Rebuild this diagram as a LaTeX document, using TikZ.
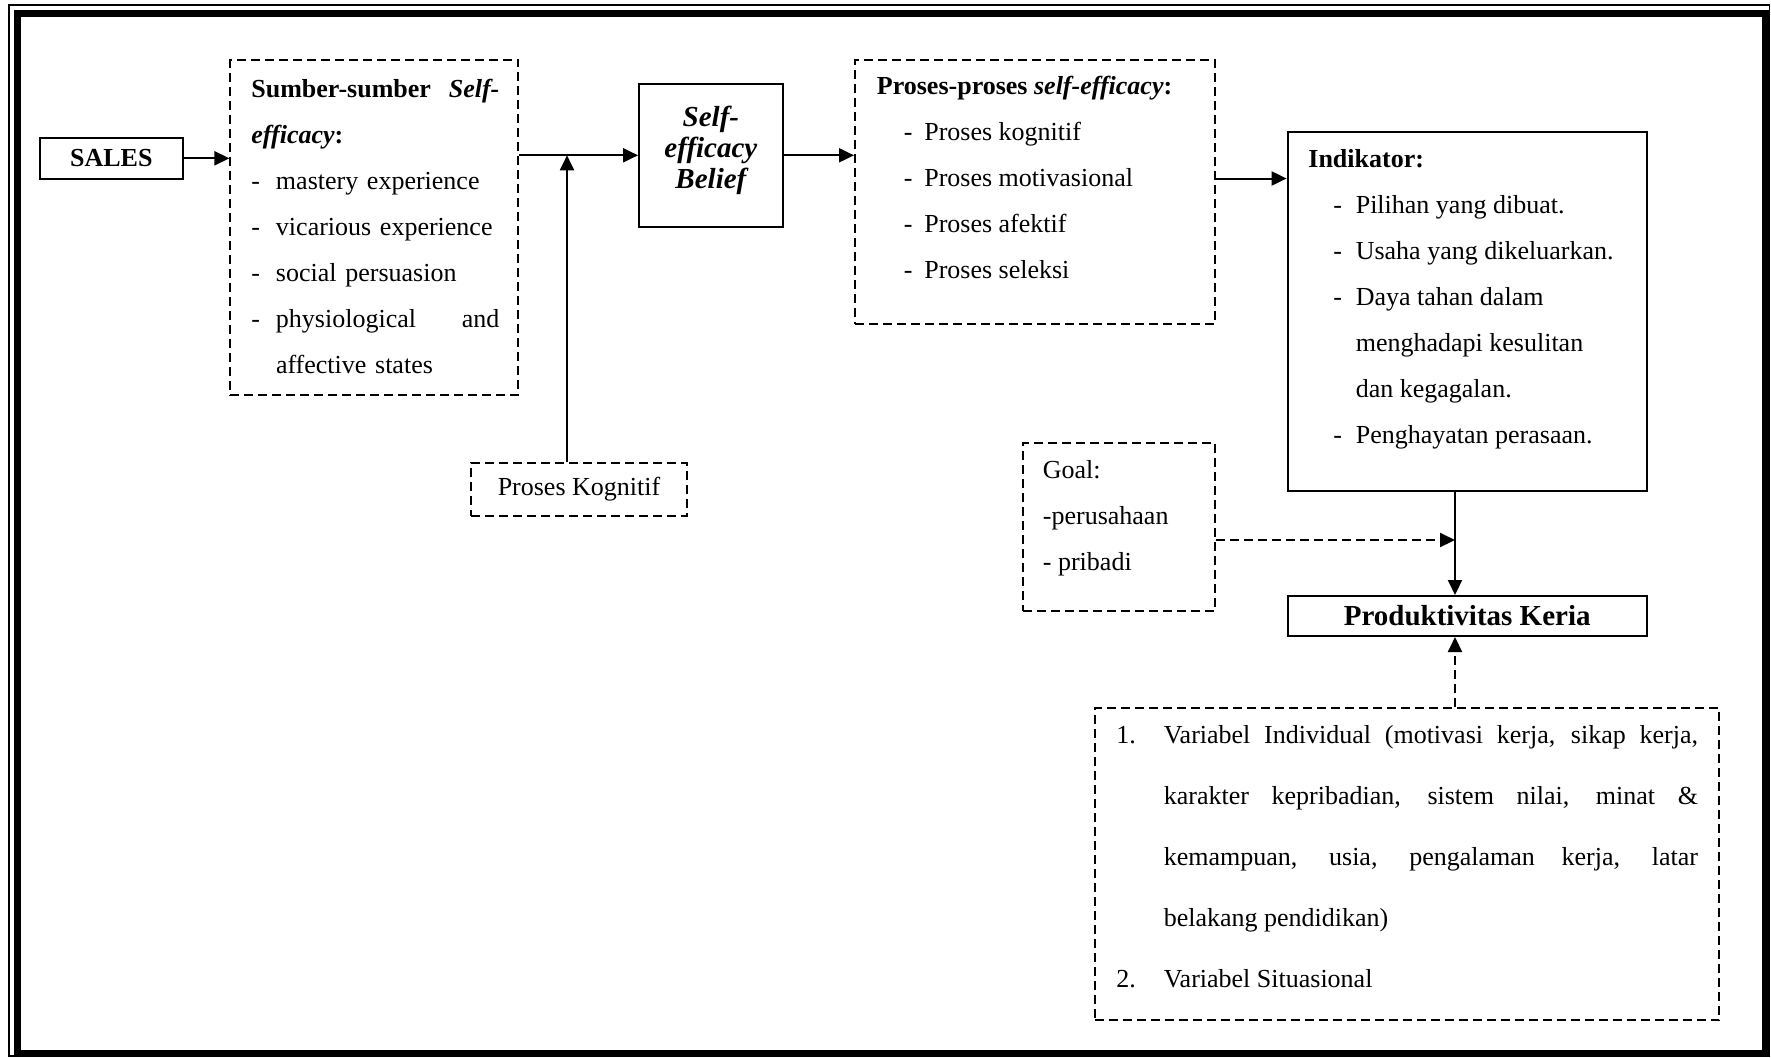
\documentclass[tikz,border=0pt]{standalone}
\usepackage{fontspec}
\setmainfont{Liberation Serif}
\usetikzlibrary{arrows.meta}
\newcommand{\itemdash}[1]{\makebox[#1][l]{-}}
\begin{document}
\begin{tikzpicture}
[
    x=0.5pt, y=-0.5pt,
    box/.style={draw, line width=1pt, inner sep=0pt},
    dbox/.style={box, dash pattern=on 4.5pt off 2.5pt},
    txt/.style={align=left, anchor=north west, inner sep=0pt, font=\fontsize{13}{23}\selectfont},
    arr/.style={line width=1pt, -{Triangle[length=7.5pt, width=7pt]}}
]
    \useasboundingbox (0,0) rectangle (1771,1057);
    \draw[line width=0.6pt] (9,5) rectangle (1769.5,1056);
    \draw[line width=3.5pt] (17.5,13.5) rectangle (1765,1053);

    % frames
    \node [box, minimum width=71.75pt, minimum height=20.25pt, font=\fontsize{13}{15}\selectfont\bfseries] (sales) at (111.3,158.3) {SALES};
    \node [dbox, minimum width=144pt, minimum height=167.7pt] (sumber) at (374.4,227.6) {};
    \node [box, minimum width=71.85pt, minimum height=71.7pt] (selfeff) at (710.9,155.3) {};
    \node [dbox, minimum width=180pt, minimum height=132pt] (proses) at (1035,192) {};
    \node [box, minimum width=179.6pt, minimum height=179.5pt] (indikator) at (1467.2,311.5) {};
    \node [dbox, minimum width=96pt, minimum height=84pt] (goal) at (1119,527) {};
    \node [box, minimum width=179.6pt, minimum height=20pt, font=\fontsize{14.5}{17}\selectfont\bfseries] (produktivitas) at (1467.2,616) {Produktivitas Keria};
    \node [dbox, minimum width=312.25pt, minimum height=156pt] (variabel) at (1406.8,864) {};
    \node [dbox, minimum width=108pt, minimum height=26.5pt, font=\fontsize{13}{15}\selectfont] (kognitif) at (579,489.5) {Proses Kognitif};

    % texts
    \node [txt, text width=124pt] (sumberT) at (251,79) {\textbf{Sumber-sumber}\hfill\textbf{\textit{Self-}}\\
        \textbf{\textit{efficacy}:}\\
        \itemdash{12.3pt}mastery experience\\
        \itemdash{12.3pt}vicarious experience\\
        \itemdash{12.3pt}social persuasion\\
        \itemdash{12.3pt}physiological\hfill and\\
        \hspace*{12.3pt}affective states};
    \node [align=center, inner sep=0pt, font=\fontsize{14.5}{15.5}\selectfont\bfseries\itshape] (selfeffT) at (710.9,150) {Self-\\efficacy\\Belief};
    \node [txt] (prosesT) at (876.5,76) {\textbf{Proses-proses \textit{self-efficacy}:}\\
        \hspace*{13.5pt}\itemdash{10.2pt}Proses kognitif\\
        \hspace*{13.5pt}\itemdash{10.2pt}Proses motivasional\\
        \hspace*{13.5pt}\itemdash{10.2pt}Proses afektif\\
        \hspace*{13.5pt}\itemdash{10.2pt}Proses seleksi};
    \node [txt] (indikatorT) at (1308,149) {\textbf{Indikator:}\\
        \hspace*{12.5pt}\itemdash{11.2pt}Pilihan yang dibuat.\\
        \hspace*{12.5pt}\itemdash{11.2pt}Usaha yang dikeluarkan.\\
        \hspace*{12.5pt}\itemdash{11.2pt}Daya tahan dalam\\
        \hspace*{23.7pt}menghadapi kesulitan\\
        \hspace*{23.7pt}dan kegagalan.\\
        \hspace*{12.5pt}\itemdash{11.2pt}Penghayatan perasaan.};
    \node [txt] (goalT) at (1042.5,460) {Goal:\\-perusahaan\\- pribadi};
    \node [txt, align=justify, text width=290.8pt, font=\fontsize{13}{30.5}\selectfont] (variabelT) at (1116,725) {\parindent=0pt
        \hangindent=23.7pt\hangafter=1\makebox[23.7pt][l]{1.}Variabel Individual (motivasi kerja, sikap kerja,\linebreak
        karakter kepribadian, sistem nilai, minat \&\linebreak
        kemampuan, usia, pengalaman kerja, latar\linebreak
        belakang pendidikan)\par
        \makebox[23.7pt][l]{2.}Variabel Situasional\par};

    % connectors
    \coordinate (col) at (1455,0);
    \coordinate (meet) at (1455,540);
    \draw[arr] (sales.east) -- (sales.east -| sumber.west);
    \draw[arr] (sumber.east |- selfeff.west) -- (selfeff.west);
    \draw[arr] ([xshift=-6pt]kognitif.north) -- ([xshift=-6pt]kognitif.north |- selfeff.west);
    \draw[arr] (selfeff.east) -- (selfeff.east -| proses.west);
    \draw[arr] ([yshift=6.75pt]proses.east) -- ([yshift=6.75pt]proses.east -| indikator.west);
    \draw[arr] (indikator.south -| col) -- (produktivitas.north -| col);
    \draw[arr, dash pattern=on 4.5pt off 2.5pt] (goal.east |- meet) -- (meet);
    \draw[arr, dash pattern=on 4.5pt off 2.5pt] (variabel.north -| col) -- (produktivitas.south -| col);
\end{tikzpicture}
\end{document}
